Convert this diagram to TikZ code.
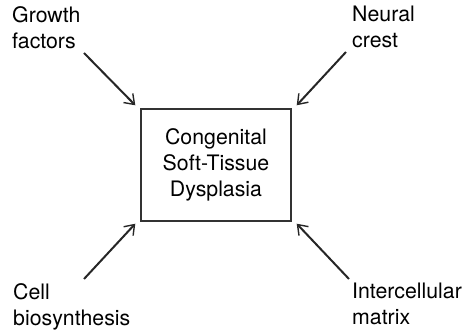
\documentclass[tikz,border=0pt]{standalone}
\usepackage{fontspec}
\setmainfont{TeX Gyre Heros}
\usetikzlibrary{arrows.meta,positioning,calc}

\begin{document}
\begin{tikzpicture}[x=1pt,y=1pt,
    tag/.style={align=left, inner sep=0pt, font=\fontsize{21.3}{26}\selectfont},
    feed/.style={draw=black!85, line width=2pt, -{Straight Barb[length=9pt,width=13pt,line width=1.4pt]}}]
  \useasboundingbox (0,0) rectangle (468,331);

  \node[draw=black!80, line width=1.4pt, minimum width=150pt, minimum height=112pt, tag, align=center] (box) at (216,166) {Congenital\\Soft-Tissue\\Dysplasia};

  \node[tag, anchor=north west] (growth) at (12,325) {Growth\\factors};
  \node[tag, anchor=north west] (crest) at (352,325) {Neural\\crest};
  \node[tag, anchor=north west] (cell) at (13,48) {Cell\\biosynthesis};
  \node[tag, anchor=north west] (matrix) at (352,48) {Intercellular\\matrix};

  \coordinate (growth-tail) at (84,278);
  \coordinate (crest-tail) at (346,279);
  \coordinate (cell-tail) at (84,52);
  \coordinate (matrix-tail) at (349,52);

  \draw[feed] (growth-tail) -- ($(box.north west)+(-5,3)$);
  \draw[feed] (crest-tail) -- ($(box.north east)+(5,3)$);
  \draw[feed] (cell-tail) -- ($(box.south west)+(-5,-2)$);
  \draw[feed] (matrix-tail) -- ($(box.south east)+(5,-2)$);
\end{tikzpicture}
\end{document}
